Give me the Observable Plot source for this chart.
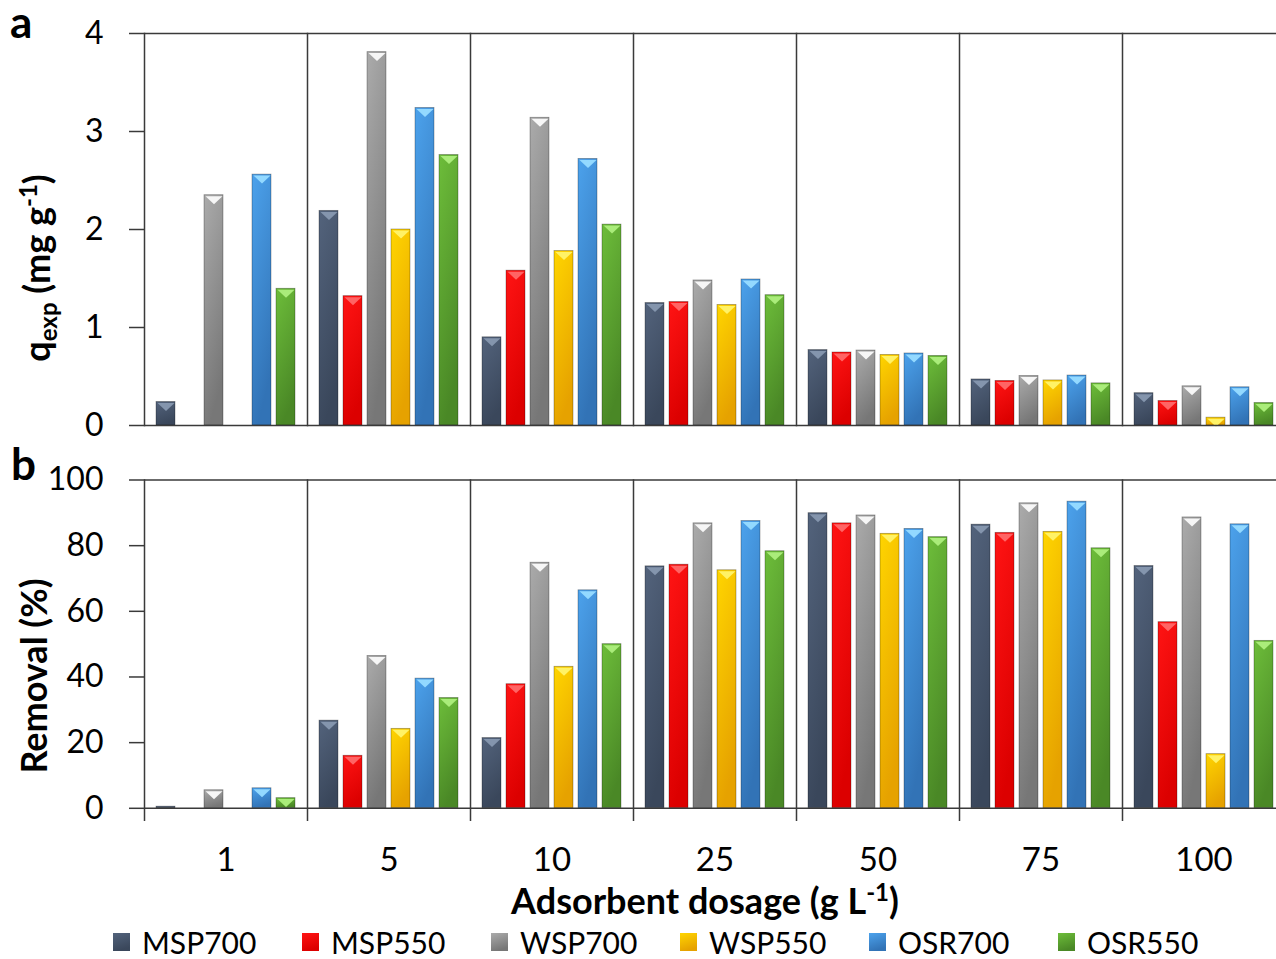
<!DOCTYPE html>
<html>
<head>
<meta charset="utf-8">
<script src="https://cdn.jsdelivr.net/npm/d3@7"></script>
<script src="https://cdn.jsdelivr.net/npm/@observablehq/plot@0.6"></script>
<style>
html, body { margin: 0; padding: 0; background: #fff; overflow: hidden; }
#wrap { width: 1276px; height: 959px; overflow: hidden; position: relative; font-family: Lato, "Open Sans", sans-serif; }
#pa svg, #pb svg { display: block; max-width: none !important; overflow: visible; }
#legend { position: absolute; left: 113px; top: 924px; }
#legend * { font-family: Lato, "Open Sans", sans-serif !important; font-size: 30px !important; color: #000; }
</style>
</head>
<body>
<svg width="0" height="0" style="position:absolute"><defs id="grads"></defs></svg>
<div id="wrap">
  <div id="pa"></div>
  <div id="pb"></div>
  <div id="legend"></div>
</div>
<script>
// ---------- data ----------
const dosages = ["1", "5", "10", "25", "50", "75", "100"];
const series = ["MSP700", "MSP550", "WSP700", "WSP550", "OSR700", "OSR550"];

// q_exp (mg g-1), one value per dosage (0 = no bar)
const qMSP700 = [0.24, 2.19, 0.90, 1.25, 0.77, 0.47, 0.33];
const qMSP550 = [0, 1.32, 1.58, 1.26, 0.745, 0.455, 0.25];
const qWSP700 = [2.35, 3.81, 3.14, 1.48, 0.765, 0.505, 0.40];
const qWSP550 = [0, 2.00, 1.78, 1.23, 0.72, 0.46, 0.08];
const qOSR700 = [2.56, 3.24, 2.72, 1.49, 0.735, 0.51, 0.39];
const qOSR550 = [1.395, 2.76, 2.05, 1.33, 0.71, 0.43, 0.23];

// Removal (%)
const rMSP700 = [0.5, 26.7, 21.4, 73.7, 89.9, 86.4, 73.8];
const rMSP550 = [0, 16.0, 37.8, 74.2, 86.8, 83.9, 56.7];
const rWSP700 = [5.5, 46.4, 74.8, 86.8, 89.2, 92.9, 88.6];
const rWSP550 = [0, 24.2, 43.1, 72.5, 83.6, 84.2, 16.5];
const rOSR700 = [6.1, 39.5, 66.4, 87.5, 85.1, 93.4, 86.5];
const rOSR550 = [3.1, 33.6, 50.0, 78.3, 82.6, 79.2, 51.0];

const qTicks = [0, 1, 2, 3, 4];
const rTicks = [0, 20, 40, 60, 80, 100];

// ---------- styles ----------
const topColors = ["#53637c", "#ff1414", "#ababab", "#ffd500", "#4ca2ec", "#6dbd3a"];
const bottomColors = ["#3a475b", "#dc0000", "#777777", "#e6a200", "#3273b6", "#4a8826"];
const bevelColors = ["#8495ad", "#ff6464", "#f6f6f6", "#fff266", "#93d9ff", "#aaec7a"];

const defs = d3.select("#grads");
series.forEach((s, i) => {
  const g = defs.append("linearGradient").attr("id", "grad" + i)
    .attr("x1", 0).attr("y1", 0).attr("x2", 0.3).attr("y2", 1);
  g.append("stop").attr("offset", "0%").attr("stop-color", topColors[i]);
  g.append("stop").attr("offset", "100%").attr("stop-color", bottomColors[i]);
});
const fills = series.map((s, i) => `url(#grad${i})`);

function toRows(arrs) {
  const rows = [];
  series.forEach((s, i) => dosages.forEach((d, j) => {
    if (arrs[i][j] > 0) rows.push({dosage: d, series: s, value: arrs[i][j]});
  }));
  return rows;
}

const bevel = {draw(ctx) { ctx.moveTo(-8.5, 0); ctx.lineTo(8.5, 0); ctx.lineTo(0, 8); ctx.closePath(); }};
const axisColor = "#3a3a3a";

function panel({rows, yMax, ticks, height, marginTop, marginBottom, bottomAxis, bevelMin}) {
  const marks = [
    Plot.barY(rows, {fx: "dosage", x: "series", y: "value", fill: "series",
      stroke: "rgba(0,0,0,0.35)", strokeWidth: 0.8}),
    ...series.map((s, i) => Plot.dot(rows.filter(r => r.series === s && r.value >= bevelMin),
      {fx: "dosage", x: "series", y: "value", symbol: bevel, fill: bevelColors[i], stroke: "none", dy: 1})),
    Plot.ruleY([0, yMax], {stroke: axisColor, strokeWidth: 1.5}),
    Plot.frame({anchor: "left", stroke: axisColor, strokeWidth: 1.5, insetBottom: bottomAxis ? -12 : 0}),
    Plot.axisY({ticks, tickSize: 15, tickPadding: 26, tickFormat: d => String(d), stroke: axisColor, strokeWidth: 1.5,
      fill: "#000", fontSize: 32, label: null})
  ];
  if (bottomAxis) marks.push(Plot.axisFx({anchor: "bottom", tickSize: 0, tickPadding: 39,
    fontSize: 33, fill: "#000", label: null}));
  return Plot.plot({
    width: 1286, height, marginLeft: 143, marginRight: 0, marginTop, marginBottom,
    style: {fontFamily: "Lato, 'Open Sans', sans-serif", fontSize: "30px", color: "#000", background: "transparent"},
    fx: {domain: dosages, padding: 0, axis: null},
    x: {domain: series, paddingInner: 0.19, paddingOuter: 0.4, axis: null},
    y: {domain: [0, yMax], axis: null},
    color: {domain: series, range: fills},
    marks
  });
}

// ---------- panel a ----------
const svgA = panel({
  rows: toRows([qMSP700, qMSP550, qWSP700, qWSP550, qOSR700, qOSR550]),
  yMax: 4, ticks: qTicks, height: 445, marginTop: 33, marginBottom: 20, bottomAxis: false, bevelMin: 0.05
});
document.getElementById("pa").append(svgA);

const sa = d3.select(svgA);
sa.append("text").attr("x", 10).attr("y", 38).attr("font-size", 44).attr("font-weight", 700)
  .attr("text-anchor", "start").attr("font-family", "Lato, sans-serif").text("a");
const ta = sa.append("text").attr("transform", "translate(50,268) rotate(-90)")
  .attr("text-anchor", "middle").attr("font-size", 36).attr("font-weight", 700)
  .attr("font-family", "Lato, sans-serif");
ta.append("tspan").text("q");
ta.append("tspan").attr("font-size", 24).attr("dy", 7).text("exp");
ta.append("tspan").attr("dy", -7).text(" (mg g");
ta.append("tspan").attr("font-size", 24).attr("dy", -13).text("-1");
ta.append("tspan").attr("dy", 13).text(")");

// ---------- panel b ----------
const svgB = panel({
  rows: toRows([rMSP700, rMSP550, rWSP700, rWSP550, rOSR700, rOSR550]),
  yMax: 100, ticks: rTicks, height: 475, marginTop: 34.5, marginBottom: 112.2, bottomAxis: true, bevelMin: 2
});
document.getElementById("pb").append(svgB);

const sb = d3.select(svgB);
sb.append("text").attr("x", 11).attr("y", 35).attr("font-size", 44).attr("font-weight", 700)
  .attr("text-anchor", "start").attr("font-family", "Lato, sans-serif").text("b");
sb.append("text").attr("transform", "translate(47,231) rotate(-90)")
  .attr("text-anchor", "middle").attr("font-size", 36).attr("font-weight", 700)
  .attr("font-family", "Lato, sans-serif").text("Removal (%)");
const tx = sb.append("text").attr("x", 705).attr("y", 469).attr("text-anchor", "middle")
  .attr("font-size", 36).attr("font-weight", 700).attr("font-family", "Lato, sans-serif");
tx.append("tspan").text("Adsorbent dosage (g L");
tx.append("tspan").attr("font-size", 24).attr("dy", -13).text("-1");
tx.append("tspan").attr("dy", 13).text(")");

// ---------- legend ----------
const leg = Plot.legend({color: {type: "ordinal", domain: series, range: fills}, swatchWidth: 17, swatchHeight: 18});
document.getElementById("legend").append(leg);
leg.style.marginLeft = "0";
leg.style.display = "flex";
leg.style.flexWrap = "nowrap";
leg.style.alignItems = "center";
leg.querySelectorAll(":scope > span").forEach(sp => {
  sp.style.width = "189px";
  sp.style.flex = "none";
  sp.style.marginRight = "0";
  sp.style.display = "inline-flex";
  sp.style.alignItems = "center";
  const sv = sp.querySelector("svg");
  if (sv) { sv.style.marginRight = "12px"; sv.style.flex = "none"; }
});
</script>
</body>
</html>
